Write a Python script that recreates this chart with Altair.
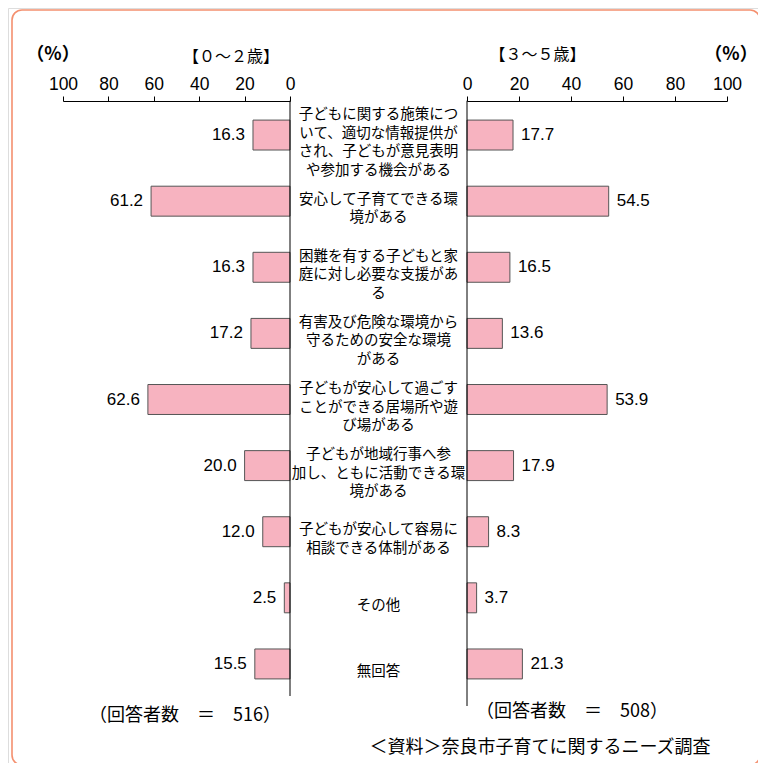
import altair as alt
import pandas as pd

categories = [
    "子どもに関する施策につ\nいて、適切な情報提供が\nされ、子どもが意見表明\nや参加する機会がある",
    "安心して子育てできる環\n境がある",
    "困難を有する子どもと家\n庭に対し必要な支援があ\nる",
    "有害及び危険な環境から\n守るための安全な環境\nがある",
    "子どもが安心して過ごす\nことができる居場所や遊\nび場がある",
    "子どもが地域行事へ参\n加し、ともに活動できる環\n境がある",
    "子どもが安心して容易に\n相談できる体制がある",
    "その他",
    "無回答",
]
age_0_2 = [16.3, 61.2, 16.3, 17.2, 62.6, 20.0, 12.0, 2.5, 15.5]
age_3_5 = [17.7, 54.5, 16.5, 13.6, 53.9, 17.9, 8.3, 3.7, 21.3]
tick_values = [0, 20, 40, 60, 80, 100]

df = pd.DataFrame({"cat": categories, "left": age_0_2, "right": age_3_5})
zero = pd.DataFrame({"z": [0]})

W, H = 750, 755
FILL = "#F7B3C0"
EDGE = "#555555"
NUMFONT = "Liberation Sans"
JPFONT = "Noto Sans CJK JP"
LH = 18.5
BAR_H = 30

yenc = alt.Y("cat:N", sort=categories,
             scale=alt.Scale(range=[94, 689], paddingInner=0.547, paddingOuter=0.2735),
             axis=None)

def lscale():
    return alt.Scale(domain=[0, 100], range=[282, 55])

def rscale():
    return alt.Scale(domain=[0, 100], range=[459, 719])

def axis():
    return alt.Axis(orient="top", offset=-93, values=tick_values, tickSize=5,
                    labelFontSize=17.5, labelFont=NUMFONT, labelColor="black",
                    labelFlush=False, labelOverlap=False, labelPadding=7,
                    labelBaseline="alphabetic",
                    domainColor="black", tickColor="black", grid=False, title=None)

base = alt.Chart(df)

left_bars = base.mark_bar(fill=FILL, stroke=EDGE, strokeWidth=1).encode(
    x=alt.X("left:Q", scale=lscale(), axis=axis()), x2=alt.datum(0), y=yenc)
left_text = base.mark_text(align="right", dx=-8, fontSize=17, font=NUMFONT, color="black").encode(
    x=alt.X("left:Q", scale=lscale(), axis=None), y=yenc,
    text=alt.Text("left:Q", format=".1f"))
left_rule = alt.Chart(zero).mark_rule(color="black").encode(
    x=alt.X("z:Q", scale=lscale(), axis=None), y=alt.value(92.7), y2=alt.value(688))

right_bars = base.mark_bar(fill=FILL, stroke=EDGE, strokeWidth=1).encode(
    x=alt.X("right:Q", scale=rscale(), axis=axis()), x2=alt.datum(0), y=yenc)
right_text = base.mark_text(align="left", dx=8, fontSize=17, font=NUMFONT, color="black").encode(
    x=alt.X("right:Q", scale=rscale(), axis=None), y=yenc,
    text=alt.Text("right:Q", format=".1f"))
right_rule = alt.Chart(zero).mark_rule(color="black").encode(
    x=alt.X("z:Q", scale=rscale(), axis=None), y=alt.value(92.7), y2=alt.value(698))

cat_text = base.transform_calculate(
    nl="length(split(datum.cat, '\\n'))"
).transform_calculate(
    off=f"{BAR_H / 2 + 8} - (datum.nl - 1) * {LH / 2}"
).mark_text(lineBreak="\n", fontSize=14.5, lineHeight=LH, font=JPFONT,
            color="black", baseline="middle").encode(
    x=alt.value(370.5), y=yenc,
    yOffset=alt.YOffset("off:Q", scale=None),
    text="cat:N")

notes = pd.DataFrame({
    "t": ["（%）", "【０～２歳】", "【３～５歳】", "（%）",
          "（回答者数　＝　516）", "（回答者数　＝　508）", "＜資料＞奈良市子育てに関するニーズ調査"],
    "px": [45, 223, 529.5, 723, 177, 564, 532],
    "py": [47, 48.5, 47, 47, 708, 704, 740],
    "fs": [18, 16, 16, 18, 18, 18, 18],
    "bold": [True, False, False, True, False, False, False],
})

def notes_layer(bold):
    return alt.Chart(notes).transform_filter(
        "datum.bold" if bold else "!datum.bold"
    ).mark_text(font=JPFONT, color="black", baseline="middle",
                fontWeight="bold" if bold else "normal").encode(
        x=alt.X("px:Q", scale=alt.Scale(domain=[0, W], range=[0, W]), axis=None),
        y=alt.Y("py:Q", scale=alt.Scale(domain=[0, H], range=[0, H]), axis=None),
        text="t:N", size=alt.Size("fs:Q", scale=None, legend=None))

border = alt.Chart(zero).mark_rect(fillOpacity=0, stroke="#F4906F", strokeWidth=1.6,
                                   cornerRadius=10).encode(
    x=alt.value(4), x2=alt.value(752), y=alt.value(2), y2=alt.value(757))

chart = alt.layer(border, left_bars, left_text, left_rule, right_bars, right_text,
                  right_rule, cat_text, notes_layer(True), notes_layer(False)).resolve_scale(
    x="independent", y="independent"
).properties(
    width=W, height=H, padding=0,
    autosize=alt.AutoSizeParams(type="none"),
).configure_view(stroke=None).configure(background="white")

chart.save("out.html", embed_options={"renderer": "svg", "actions": False})
